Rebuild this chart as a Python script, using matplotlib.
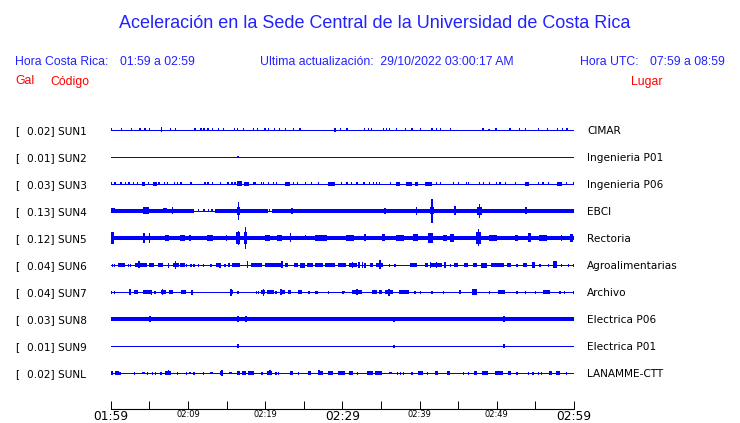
import matplotlib
matplotlib.use("Agg")
import matplotlib.pyplot as plt
import matplotlib.transforms as mtrans

# station info
codes = ["SUN1", "SUN2", "SUN3", "SUN4", "SUN5", "SUN6", "SUN7", "SUN8", "SUN9", "SUNL"]
places = ["CIMAR", "Ingenieria P01", "Ingenieria P06", "EBCI", "Rectoria",
          "Agroalimentarias", "Archivo", "Electrica P06", "Electrica P01", "LANAMME-CTT"]
gal = [0.02, 0.01, 0.03, 0.13, 0.12, 0.04, 0.04, 0.03, 0.01, 0.02]
tick_labels = ["01:59", "02:09", "02:19", "02:29", "02:39", "02:49", "02:59"]

# traces: small blips (minutes) + bursts (start min, end min, half amplitude px)
sun1_blips = [0.13, 1.42, 2.72, 3.8, 4.44, 5.0, 7.77, 8.42, 10.9, 11.7, 12.1, 12.6, 13.2,
              14.0, 14.6, 16.0, 16.4, 17.2, 18.5, 19.0, 20.0, 20.4, 21.2, 21.9, 22.6, 23.7,
              24.5, 29.8, 30.6, 32.9, 33.4, 33.8, 35.3, 35.7, 36.1, 37.0, 38.2, 39.0, 40.1,
              41.6, 42.2, 42.7, 44.0, 48.2, 49.9, 51.7, 52.9, 53.7, 55.4, 56.6, 57.9, 58.5, 59.1]
sun1_bursts = [(6.5, 6.7, 2.5), (28.9, 29.2, 1.8), (48.8, 49.1, 1.0)]

sun2_blips = []
sun2_bursts = [(16.5, 16.5, 1.0)]

sun3_blips = [0.12, 0.56, 1.33, 1.94, 2.37, 2.93, 3.45, 4.87, 6.25, 6.95, 7.38, 8.24, 8.67,
              9.1, 10.4, 12.2, 12.6, 13.2, 14.2, 15.2, 15.7, 16.1, 18.5, 18.7, 19.5, 19.8,
              20.4, 21.1, 21.5, 23.7, 24.2, 25.2, 26.0, 26.9, 29.9, 30.6, 31.2, 31.9, 32.8,
              33.5, 34.0, 34.4, 34.8, 36.2, 42.2, 42.7, 44.4, 45.0, 46.1, 46.3, 47.8, 48.3,
              49.1, 50.0, 50.4, 51.1, 52.4, 55.4, 56.0, 56.7, 59.0, 59.9]
sun3_bursts = [(4.1, 4.4, 1.6), (5.5, 5.95, 1.6), (16.3, 16.96, 2.5), (17.2, 17.9, 1.6),
               (22.6, 23.2, 1.6), (28.1, 29.0, 1.6), (37.0, 37.5, 1.6), (38.3, 39.0, 1.6),
               (39.4, 39.8, 1.6), (40.7, 41.6, 2.0), (53.7, 54.2, 1.6), (57.8, 58.4, 1.6)]

sun4_blips = [11.4, 12.1, 12.7, 13.1, 20.6]
sun4_bursts = [(0.0, 10.8, 2.0), (13.5, 16.4, 2.0), (16.8, 20.4, 2.0), (20.9, 60.0, 2.0),
               (0.0, 0.6, 2.5), (4.2, 5.0, 3.5), (6.8, 7.3, 2.5), (8.0, 8.1, 3.5),
               (16.3, 16.7, 4.0), (16.5, 16.5, 9.0), (23.3, 23.6, 3.2), (35.5, 35.5, 3.0),
               (39.6, 39.6, 4.0), (41.3, 41.9, 3.5), (41.6, 41.6, 12.0), (44.6, 44.6, 4.5),
               (47.5, 48.1, 4.0), (47.8, 47.8, 7.0), (53.6, 53.9, 3.5)]

sun5_blips = []
sun5_bursts = [(0.0, 60.0, 2.2), (0.0, 0.4, 6.0), (4.2, 4.5, 5.0), (4.9, 5.1, 5.0),
               (7.0, 7.6, 3.0), (9.0, 9.6, 3.0), (10.2, 10.4, 3.0), (12.5, 13.2, 3.0),
               (14.9, 15.1, 3.0), (16.2, 16.8, 6.0), (16.5, 16.5, 7.0), (17.3, 17.7, 6.0),
               (17.5, 17.5, 10.8), (20.0, 20.6, 3.0), (21.5, 22.2, 3.0), (23.2, 23.4, 4.5),
               (25.1, 25.3, 2.5), (26.5, 28.0, 3.0), (30.5, 31.5, 3.0), (32.9, 32.9, 3.5),
               (35.1, 35.5, 3.5), (37.0, 38.0, 3.0), (39.2, 39.8, 3.5), (41.1, 41.7, 5.0),
               (43.0, 43.5, 3.0), (44.0, 44.5, 4.0), (47.3, 47.9, 6.0), (47.6, 47.6, 8.5),
               (49.0, 50.0, 3.0), (52.4, 52.8, 3.0), (54.0, 54.4, 4.5), (55.5, 56.5, 3.0),
               (58.4, 58.4, 3.0), (59.5, 59.9, 4.0)]

sun6_blips = [0.2, 0.5, 2.3, 2.6, 9.85, 10.4, 10.8, 11.35, 12.0, 13.0, 14.8, 36.1, 36.8,
              44.0, 52.6, 55.6, 56.7, 58.4, 59.3, 59.9]
sun6_bursts = [(1.0, 1.8, 1.8), (3.2, 4.7, 1.8), (3.7, 3.7, 3.5), (5.0, 5.65, 1.8),
               (6.1, 6.8, 1.8), (7.5, 7.5, 2.5), (8.1, 8.8, 1.8), (8.4, 8.4, 4.0),
               (9.0, 9.6, 1.8), (13.6, 14.3, 1.8), (14.2, 14.2, 2.5), (15.15, 15.45, 1.8),
               (15.75, 16.75, 1.8), (17.7, 17.7, 3.5), (18.2, 19.55, 1.8), (20.0, 22.15, 1.8),
               (22.2, 22.2, 3.5), (22.6, 22.9, 1.8), (23.8, 24.2, 1.8), (24.5, 25.1, 2.5),
               (25.4, 26.25, 1.8), (26.5, 27.5, 1.8), (27.8, 29.0, 1.8), (29.5, 30.5, 1.8),
               (30.8, 31.9, 1.8), (31.3, 31.3, 3.0), (32.2, 32.2, 3.0), (32.6, 32.6, 3.0),
               (32.9, 32.9, 2.5), (33.6, 34.0, 1.8), (34.4, 35.2, 1.8), (34.9, 34.9, 4.5),
               (38.8, 39.7, 1.8), (40.7, 41.1, 1.8), (41.3, 42.9, 1.8), (41.4, 41.4, 3.0),
               (42.2, 42.2, 3.0), (43.3, 43.3, 3.0), (44.4, 45.0, 1.8), (45.7, 46.3, 1.8),
               (46.9, 47.4, 1.8), (48.0, 48.7, 2.5), (49.3, 50.9, 1.8), (51.3, 51.9, 1.8),
               (53.4, 53.9, 1.8), (54.5, 55.0, 3.0), (57.3, 57.8, 3.5)]

sun7_blips = [0.12, 0.47, 5.74, 16.5, 18.9, 19.1, 21.4, 25.7, 28.2, 30.1, 39.4, 40.1, 41.6,
              43.1, 49.1, 52.6, 53.7, 55.0, 58.2, 58.8, 59.9]
sun7_bursts = [(2.5, 2.5, 3.0), (3.06, 3.49, 1.8), (4.2, 5.3, 1.8), (5.3, 5.3, 2.5),
               (6.5, 7.1, 1.8), (6.7, 6.7, 2.8), (7.5, 8.1, 1.8), (9.1, 9.7, 1.8),
               (10.4, 10.7, 2.5), (15.45, 15.9, 1.8), (15.6, 15.6, 3.5), (19.5, 20.0, 1.8),
               (19.8, 19.8, 3.5), (20.2, 21.1, 1.8), (21.9, 22.6, 1.8), (22.1, 22.1, 3.0),
               (22.9, 23.4, 1.8), (24.3, 24.8, 1.8), (26.4, 26.8, 1.5), (29.9, 30.35, 1.3),
               (31.2, 32.5, 1.8), (31.9, 31.9, 3.0), (33.8, 34.45, 1.8), (34.7, 35.1, 1.8),
               (35.5, 36.6, 1.8), (36.0, 36.0, 3.5), (37.3, 38.6, 1.8), (45.2, 45.2, 2.0),
               (46.8, 47.4, 3.0), (50.2, 51.1, 1.8), (56.0, 56.9, 1.8)]

sun8_blips = []
sun8_bursts = [(0.0, 60.0, 2.0), (5.1, 5.1, 3.0), (16.5, 16.5, 3.0), (17.5, 17.5, 3.0),
               (36.7, 36.7, 2.5), (50.9, 50.9, 3.0)]

sun9_blips = []
sun9_bursts = [(16.5, 16.5, 2.0), (36.7, 36.7, 1.5), (50.9, 50.9, 2.0)]

sunl_blips = [1.2, 3.06, 4.8, 5.4, 5.8, 6.5, 8.67, 9.84, 10.8, 12.0, 19.6, 21.4, 21.7,
              24.3, 32.0, 37.1, 37.5, 37.9, 39.0, 41.0, 45.7, 46.3, 52.6, 54.1, 54.7,
              55.4, 55.8, 59.0]
sunl_bursts = [(0.0, 0.34, 1.6), (0.56, 1.07, 1.6), (4.1, 4.44, 1.3), (7.03, 7.8, 1.8),
               (7.5, 7.5, 2.5), (10.2, 10.4, 1.3), (12.9, 13.2, 1.3), (14.2, 14.5, 1.8),
               (14.4, 14.4, 3.0), (15.3, 15.7, 1.3), (16.3, 16.75, 1.8), (17.0, 17.5, 1.8),
               (17.8, 18.6, 1.8), (20.2, 20.9, 1.8), (20.6, 20.6, 2.5), (23.2, 23.65, 1.6),
               (25.5, 26.0, 1.6), (26.8, 27.5, 1.8), (27.0, 27.0, 2.5), (28.1, 28.8, 1.8),
               (29.5, 30.3, 1.8), (30.9, 31.4, 1.6), (33.2, 34.0, 1.8), (34.2, 35.1, 1.6),
               (36.1, 36.4, 1.3), (39.85, 40.4, 1.6), (42.0, 42.4, 1.8), (43.5, 44.0, 1.6),
               (47.0, 47.5, 1.8), (48.05, 48.9, 1.6), (49.8, 50.8, 1.8), (51.5, 51.8, 1.6),
               (56.7, 57.2, 1.8), (57.7, 58.2, 1.6)]

traces = [(sun1_blips, sun1_bursts), (sun2_blips, sun2_bursts), (sun3_blips, sun3_bursts),
          (sun4_blips, sun4_bursts), (sun5_blips, sun5_bursts), (sun6_blips, sun6_bursts),
          (sun7_blips, sun7_bursts), (sun8_blips, sun8_bursts), (sun9_blips, sun9_bursts),
          (sunl_blips, sunl_bursts)]

blue = "#0000ff"
txtblue = "#2222ff"
red = "#ff0000"

W, H = 740, 423
fig = plt.figure(figsize=(W / 100, H / 100), dpi=100)


def fx(px):
    return px / W


def fy(py):
    return 1 - py / H


x0, x1 = 110.7, 574.0
ybot, ytop = 409, 115
row0, dy = 130, 27
ax = fig.add_axes([fx(x0), fy(ybot), (x1 - x0) / W, (ybot - ytop) / H])
ax.set_xlim(0, 60)
ax.set_ylim((ybot - row0) / dy, (ytop - row0) / dy)
ax.patch.set_visible(False)

blip_amp = 1.5
minw = 0.17
for i, (blips, bursts) in enumerate(traces):
    ax.hlines(i, 0, 60, color=blue, lw=0.6, antialiased=False)
    xs, hs, ws = [], [], []
    for t in blips:
        xs.append(t); hs.append(blip_amp); ws.append(minw)
    for t0, t1, a in bursts:
        xs.append((t0 + t1) / 2)
        hs.append(a)
        if t1 > t0:
            ws.append(t1 - t0)
        else:
            ws.append(0.15 if a > 5 else 0.22)
    if xs:
        ax.bar(xs, [2 * h / dy for h in hs], width=ws,
               bottom=[i - h / dy for h in hs], color=blue, linewidth=0,
               antialiased=False)

# time axis
for s in ["top", "left", "right"]:
    ax.spines[s].set_visible(False)
ax.spines["bottom"].set_linewidth(0.8)
ax.set_yticks([])
ax.set_xticks(range(0, 61, 10))
ax.set_xticks(range(5, 60, 10), minor=True)
ax.set_xticklabels(tick_labels)
ax.tick_params(axis="x", which="both", direction="in", length=6, width=0.7, pad=1)
for k, lab in enumerate(ax.get_xticklabels()):
    lab.set_fontsize(8.8 if k % 3 == 0 else 6)

# station labels
trans = mtrans.blended_transform_factory(fig.transFigure, ax.transData)
for i, (c, p, g) in enumerate(zip(codes, places, gal)):
    yb = i + 4 / dy
    ax.text(fx(15), yb, "[", transform=trans, va="baseline", fontsize=7.6, family="DejaVu Sans")
    ax.text(fx(27), yb, "%.2f] %s" % (g, c), transform=trans, va="baseline",
            fontsize=7.6, family="DejaVu Sans")
    ax.text(fx(587), yb, p, transform=trans, va="baseline", fontsize=7.6, family="DejaVu Sans")

# header
hf = "Liberation Sans"
fig.text(fx(375), fy(28), "Aceleración en la Sede Central de la Universidad de Costa Rica",
         ha="center", va="baseline", fontsize=13, color=txtblue, family=hf)
fig.text(fx(15), fy(65), "Hora Costa Rica:", va="baseline", fontsize=8.8, color=txtblue, family=hf)
fig.text(fx(120), fy(65), "01:59 a 02:59", va="baseline", fontsize=8.8, color=txtblue, family=hf)
fig.text(fx(260), fy(65), "Ultima actualización:  29/10/2022 03:00:17 AM", va="baseline",
         fontsize=8.8, color=txtblue, family=hf)
fig.text(fx(580.5), fy(65), "Hora UTC:", va="baseline", fontsize=8.8, color=txtblue, family=hf)
fig.text(fx(650.5), fy(65), "07:59 a 08:59", va="baseline", fontsize=8.8, color=txtblue, family=hf)
fig.text(fx(15), fy(84.5), "Gal", va="baseline", fontsize=8.8, color=red, family=hf)
fig.text(fx(50.5), fy(84.5), "Código", va="baseline", fontsize=8.8, color=red, family=hf)
fig.text(fx(630.5), fy(84.5), "Lugar", va="baseline", fontsize=8.8, color=red, family=hf)

fig.savefig("out.png", dpi=100)
